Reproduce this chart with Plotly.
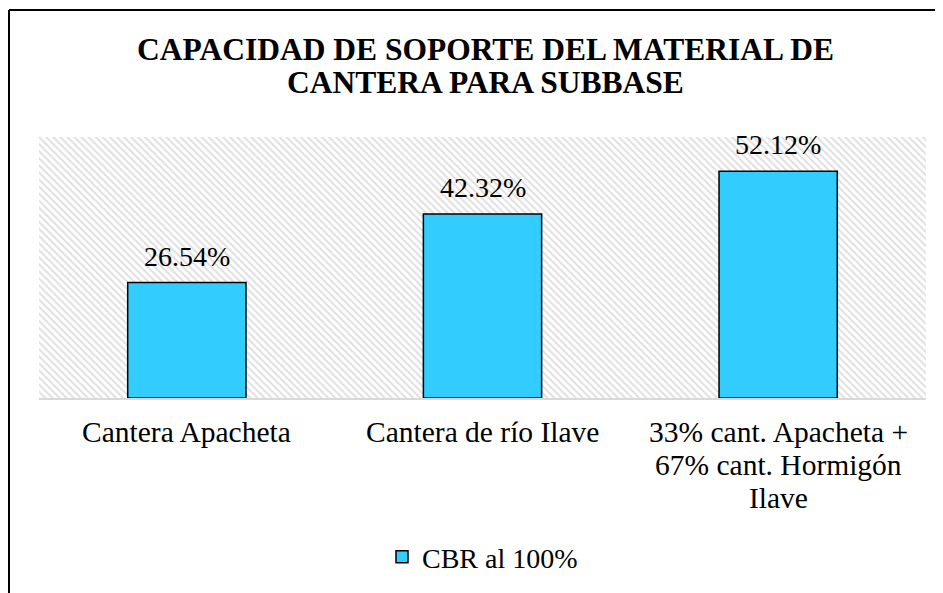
import plotly.graph_objects as go

categorias = ["Cantera Apacheta", "Cantera de río Ilave",
              "33% cant. Apacheta +<br>67% cant. Hormigón<br>Ilave"]
cbr_100 = [26.54, 42.32, 52.12]
serie = "CBR al 100%"
titulo = ["CAPACIDAD DE SOPORTE DEL MATERIAL DE", "CANTERA PARA SUBBASE"]
y_max = 60

W, H = 943, 593
OFF = 8  # margen del body de la pagina
L, T = 39 - OFF, 137 - OFF
R, B = W - (926 - OFF), H - (398 - OFF)
pw, ph = W - L - R, H - T - B

def px_x(px):
    return (px - OFF - L) / pw

def px_y(py):
    return (H - B - (py - OFF)) / ph

fuente = "Times New Roman, Liberation Serif, serif"

fig = go.Figure()

# fondo rayado del area de trazado
fig.add_trace(go.Bar(
    x=[0.5], y=[y_max], width=[1], xaxis="x", yaxis="y",
    marker=dict(color="white", line=dict(width=0),
                pattern=dict(shape="\\", fgcolor="#c0c0c0", bgcolor="white",
                             size=5, solidity=0.4)),
    showlegend=False, hoverinfo="skip",
))

fig.add_trace(go.Bar(
    x=categorias, y=cbr_100, name=serie, xaxis="x2", yaxis="y",
    width=0.4,
    marker=dict(color="#33CCFF", line=dict(color="black", width=1.5)),
    hoverinfo="y",
))

# etiquetas de datos
for c, v in zip(categorias, cbr_100):
    fig.add_annotation(x=c, y=v, xref="x2", yref="y", text=f"{v:.2f}%",
                       showarrow=False, yanchor="bottom", yshift=9,
                       font=dict(family=fuente, size=28, color="black"))

# etiquetas de categoria, una linea por anotacion (interlineado mas cerrado)
for c in categorias:
    for i, linea in enumerate(c.split("<br>")):
        fig.add_annotation(x=c, y=px_y(432 + 33 * i), xref="x2", yref="paper",
                           text=linea, showarrow=False, yanchor="middle",
                           font=dict(family=fuente, size=29.5, color="black"))

# titulo
for i, linea in enumerate(titulo):
    fig.add_annotation(x=px_x(485), y=px_y(49 + 33 * i), xref="paper",
                       yref="paper", text=f"<b>{linea}</b>", showarrow=False,
                       xanchor="center", yanchor="middle",
                       font=dict(family=fuente, size=31.5, color="black"))

fig.update_layout(
    width=W, height=H,
    margin=dict(l=L, r=R, t=T, b=B),
    paper_bgcolor="white", plot_bgcolor="white",
    font=dict(family=fuente, size=28, color="black"),
    xaxis=dict(range=[0, 1], visible=False, fixedrange=True),
    xaxis2=dict(overlaying="x", type="category", showline=True,
                linecolor="#d9d9d9", linewidth=2, ticks="", showgrid=False,
                showticklabels=False),
    yaxis=dict(range=[0, y_max], visible=False, showgrid=False),
    legend=dict(orientation="h", x=0.5, xanchor="center",
                y=px_y(557), yanchor="middle",
                font=dict(family=fuente, size=28, color="black")),
    bargap=0.6,
    shapes=[
        dict(type="line", xref="paper", yref="paper",
             x0=px_x(OFF + 1), x1=px_x(980), y0=px_y(10), y1=px_y(10),
             line=dict(color="black", width=2)),
        dict(type="line", xref="paper", yref="paper",
             x0=px_x(OFF + 1), x1=px_x(OFF + 1), y0=px_y(10), y1=px_y(640),
             line=dict(color="black", width=2)),
    ],
)

fig.write_html("out.html")
